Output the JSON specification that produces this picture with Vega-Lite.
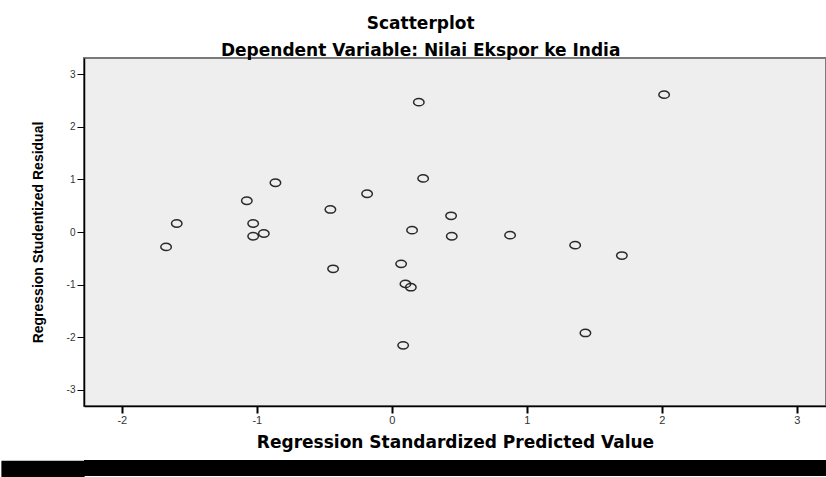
{
  "$schema": "https://vega.github.io/schema/vega-lite/v6.json",
  "padding": {"top": 15, "left": 0, "right": 0, "bottom": 0},
  "background": "white",
  "title": {
    "text": "Scatterplot",
    "subtitle": "Dependent Variable: Nilai Ekspor ke India",
    "anchor": "middle",
    "dx": 7,
    "font": "DejaVu Sans",
    "fontSize": 17,
    "fontWeight": "bold",
    "color": "#000000",
    "subtitleFont": "DejaVu Sans",
    "subtitleFontSize": 17,
    "subtitleFontWeight": "bold",
    "subtitleColor": "#000000",
    "subtitlePadding": 10,
    "offset": -3
  },
  "spacing": 9,
  "vconcat": [
    {
      "width": 742,
      "height": 348,
      "view": {"fill": "#eeeeee", "stroke": "#7a7a7a", "strokeWidth": 2},
      "data": {
        "values": [
          {"pred": 0.20, "resid": 2.47},
          {"pred": 0.232, "resid": 1.02},
          {"pred": -0.862, "resid": 0.937},
          {"pred": -0.183, "resid": 0.727},
          {"pred": -1.074, "resid": 0.594},
          {"pred": -0.455, "resid": 0.429},
          {"pred": -1.593, "resid": 0.162},
          {"pred": -1.027, "resid": 0.162},
          {"pred": 0.439, "resid": 0.308},
          {"pred": 0.150, "resid": 0.035},
          {"pred": 0.444, "resid": -0.08},
          {"pred": -1.027, "resid": -0.08},
          {"pred": -0.948, "resid": -0.029},
          {"pred": -1.672, "resid": -0.283},
          {"pred": -0.435, "resid": -0.70},
          {"pred": 0.069, "resid": -0.606},
          {"pred": 0.101, "resid": -0.987},
          {"pred": 0.141, "resid": -1.05},
          {"pred": 0.084, "resid": -2.156},
          {"pred": 2.017, "resid": 2.613},
          {"pred": 0.876, "resid": -0.06},
          {"pred": 1.358, "resid": -0.25},
          {"pred": 1.704, "resid": -0.448},
          {"pred": 1.434, "resid": -1.92}
        ]
      },
      "mark": {
        "type": "point",
        "shape": "M-1,0A1,0.7,0,1,0,1,0A1,0.7,0,1,0,-1,0Z",
        "size": 110,
        "filled": false,
        "stroke": "#2a2a2a",
        "strokeWidth": 1.5,
        "opacity": 1
      },
      "encoding": {
        "x": {
          "field": "pred",
          "type": "quantitative",
          "scale": {"domain": [-2.28, 3.216], "nice": false, "zero": false},
          "axis": {
            "values": [-2, -1, 0, 1, 2, 3],
            "labelExpr": "replace(datum.label, '−', '-')",
            "title": "Regression Standardized Predicted Value",
            "grid": false,
            "domainColor": "#000000",
            "domainWidth": 1.5,
            "tickColor": "#000000",
            "tickWidth": 2,
            "tickSize": 7,
            "labelFont": "Liberation Sans",
            "labelFontSize": 11,
            "labelColor": "#333333",
            "labelPadding": 1,
            "titleFont": "DejaVu Sans",
            "titleFontSize": 17,
            "titleFontWeight": "bold",
            "titleColor": "#000000",
            "titlePadding": 9
          }
        },
        "y": {
          "field": "resid",
          "type": "quantitative",
          "scale": {"domain": [-3.31, 3.31], "nice": false, "zero": false},
          "axis": {
            "values": [-3, -2, -1, 0, 1, 2, 3],
            "labelExpr": "replace(datum.label, '−', '-')",
            "title": "Regression Studentized Residual",
            "grid": false,
            "domainColor": "#000000",
            "domainWidth": 1.5,
            "tickColor": "#000000",
            "tickWidth": 1,
            "tickSize": 7,
            "labelFont": "Liberation Sans",
            "labelFontSize": 10,
            "labelColor": "#333333",
            "labelPadding": 2,
            "titleFont": "Liberation Sans",
            "titleFontSize": 14,
            "titleFontWeight": "bold",
            "titleColor": "#000000",
            "titlePadding": 21
          }
        }
      }
    },
    {
      "width": 742,
      "height": 16,
      "view": {"fill": "#000000", "stroke": null},
      "data": {"values": []},
      "mark": {"type": "point", "opacity": 0},
      "encoding": {
        "y": {
          "field": "band",
          "type": "quantitative",
          "scale": {"domain": [0, 16], "nice": false, "zero": false},
          "axis": {
            "values": [0.5, 1.5, 2.5, 3.5, 4.5, 5.5, 6.5, 7.5, 8.5, 9.5, 10.5, 11.5, 12.5, 13.5, 14.5, 15.5],
            "title": null,
            "labels": false,
            "domain": false,
            "grid": false,
            "ticks": true,
            "tickColor": "#000000",
            "tickWidth": 1.3,
            "tickSize": 83,
            "tickCap": "butt"
          }
        }
      }
    }
  ]
}
